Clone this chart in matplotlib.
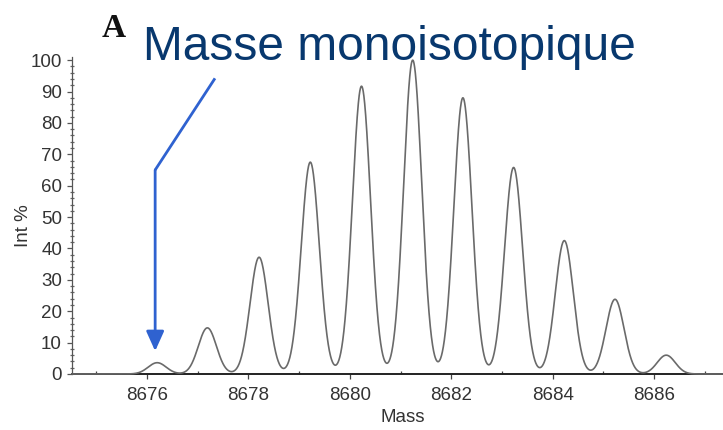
import numpy as np
import matplotlib
matplotlib.use("Agg")
import matplotlib.pyplot as plt
from matplotlib.ticker import MultipleLocator

# ---- data ----
peak_mass = [8676.20, 8677.19, 8678.21, 8679.22, 8680.23, 8681.24,
             8682.23, 8683.23, 8684.23, 8685.23, 8686.24]
peak_int = [3.6, 14.7, 37.2, 67.5, 91.7, 100.0, 88.0, 65.8, 42.5, 23.8, 6.0]
peak_sigma = 0.178          # line-shape width (mass units)
x_ticks = [8676, 8678, 8680, 8682, 8684, 8686]
y_ticks = [0, 10, 20, 30, 40, 50, 60, 70, 80, 90, 100]
mono_mass = peak_mass[0]

plt.rcParams['font.family'] = ['Liberation Sans', 'DejaVu Sans']

W, H = 723, 430
fig = plt.figure(figsize=(W / 100, H / 100), dpi=100)
ax = fig.add_axes([72 / W, 1 - 374 / H, 1 - 72 / W, (374 - 57) / H])

xlo, xhi = 8674.52, 8687.36
mass = np.linspace(xlo, xhi, 4000)
profile = np.zeros_like(mass)
for m, h in zip(peak_mass, peak_int):
    profile += h * np.exp(-((mass - m) ** 2) / (2 * peak_sigma ** 2))
ax.plot(mass, profile, color='#6a6a6a', lw=1.2, clip_on=False, zorder=3)

ax.set_xlim(xlo, xhi)
ax.set_ylim(0, 101)
ax.set_xticks(x_ticks)
ax.set_xticklabels([str(v) for v in x_ticks])
ax.set_yticks(y_ticks)
ax.set_yticklabels([str(v) for v in y_ticks])
ax.xaxis.set_minor_locator(MultipleLocator(1))
ax.yaxis.set_minor_locator(MultipleLocator(2))

for s in ['top', 'right']:
    ax.spines[s].set_visible(False)
ax.spines['left'].set_color('#555555')
ax.spines['left'].set_linewidth(0.9)
ax.spines['bottom'].set_color('#222222')
ax.spines['bottom'].set_linewidth(1.4)

ax.tick_params(axis='y', which='major', direction='out', length=3.6, width=0.9,
               color='#555555', pad=3.6, labelsize=13.5, labelcolor='#333333')
ax.tick_params(axis='y', which='minor', direction='inout', length=2.2, width=0.9,
               color='#666666')
ax.tick_params(axis='x', which='major', direction='out', length=3.6, width=0.9,
               color='#444444', pad=5.6, labelsize=13.5, labelcolor='#333333')
ax.tick_params(axis='x', which='minor', direction='in', length=2.5, width=0.9,
               color='#444444')

fig.text(24 / W, 1 - 226 / H, 'Int %', rotation=90, ha='center', va='center',
         fontsize=13.5, color='#333333')
fig.text(403 / W, 1 - 417 / H, 'Mass', ha='center', va='center',
         fontsize=13.5, color='#333333')

fig.text(102 / W, 1 - 37 / H, 'A', ha='left', va='baseline',
         family=['Liberation Serif', 'DejaVu Serif'], fontweight='bold',
         fontsize=24, color='#111111')
fig.text(143 / W, 1 - 60 / H, 'Masse monoisotopique', ha='left', va='baseline',
         fontsize=34.5, color='#08386e')

# arrow pointing at the monoisotopic peak
blue = '#2f62d0'
bend_y = 65.0
ax.plot([8677.34, mono_mass - 0.04], [94.2, bend_y], color=blue, lw=2,
        solid_capstyle='butt', clip_on=False, zorder=4)
ax.annotate('', xy=(mono_mass - 0.04, 7.3), xytext=(mono_mass - 0.04, bend_y),
            arrowprops=dict(arrowstyle='-|>,head_length=1.0,head_width=0.45',
                            mutation_scale=12, color=blue, lw=2,
                            shrinkA=0, shrinkB=0), zorder=4)

fig.savefig('out.png', dpi=100)
